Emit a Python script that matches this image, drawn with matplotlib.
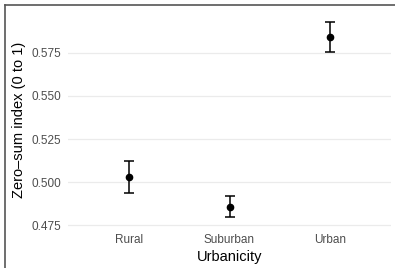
import matplotlib.pyplot as plt
from matplotlib.lines import Line2D

# 数据
categories = ["Rural", "Suburban", "Urban"]
means = [0.5030, 0.4857, 0.5842]
lower = [0.4935, 0.4797, 0.5755]
upper = [0.5125, 0.4917, 0.5930]

plt.rcParams['font.family'] = ['Liberation Sans', 'DejaVu Sans']

fig = plt.figure(figsize=(3.95, 2.68), dpi=100)
ax = fig.add_axes([68 / 395, 1 - 227 / 268, 323 / 395, 215 / 268])

x = list(range(1, len(categories) + 1))
yerr = [[m - l for m, l in zip(means, lower)], [u - m for m, u in zip(means, upper)]]
ax.errorbar(x, means, yerr=yerr, fmt='o', color='black', markersize=4.5,
            elinewidth=1.1, capsize=3.5, capthick=1.1, zorder=3)

ax.set_xlim(0.4, 3.6)
ax.set_ylim(0.474, 0.5987)
ax.set_xticks(x)
ax.set_xticklabels(categories)
ax.set_yticks([0.475, 0.500, 0.525, 0.550, 0.575])
ax.set_yticklabels(["0.475", "0.500", "0.525", "0.550", "0.575"])

ax.grid(axis='y', color='#EBEBEB', linewidth=0.9)
ax.set_axisbelow(True)
for s in ax.spines.values():
    s.set_visible(False)
ax.tick_params(length=0, labelsize=8.5, labelcolor='#4D4D4D', pad=5)

ax.set_xlabel("Urbanicity", fontsize=10.5, labelpad=3)
ax.set_ylabel("Zero\u2013sum index (0 to 1)", fontsize=10.5, labelpad=4)

# 边框线（左、上）
fig.add_artist(Line2D([5 / 395, 5 / 395], [0, 1 - 5 / 268], transform=fig.transFigure,
                      color='#555555', linewidth=1.2))
fig.add_artist(Line2D([5 / 395, 1], [1 - 5 / 268, 1 - 5 / 268], transform=fig.transFigure,
                      color='#555555', linewidth=1.2))

plt.savefig("out.png", dpi=100)
